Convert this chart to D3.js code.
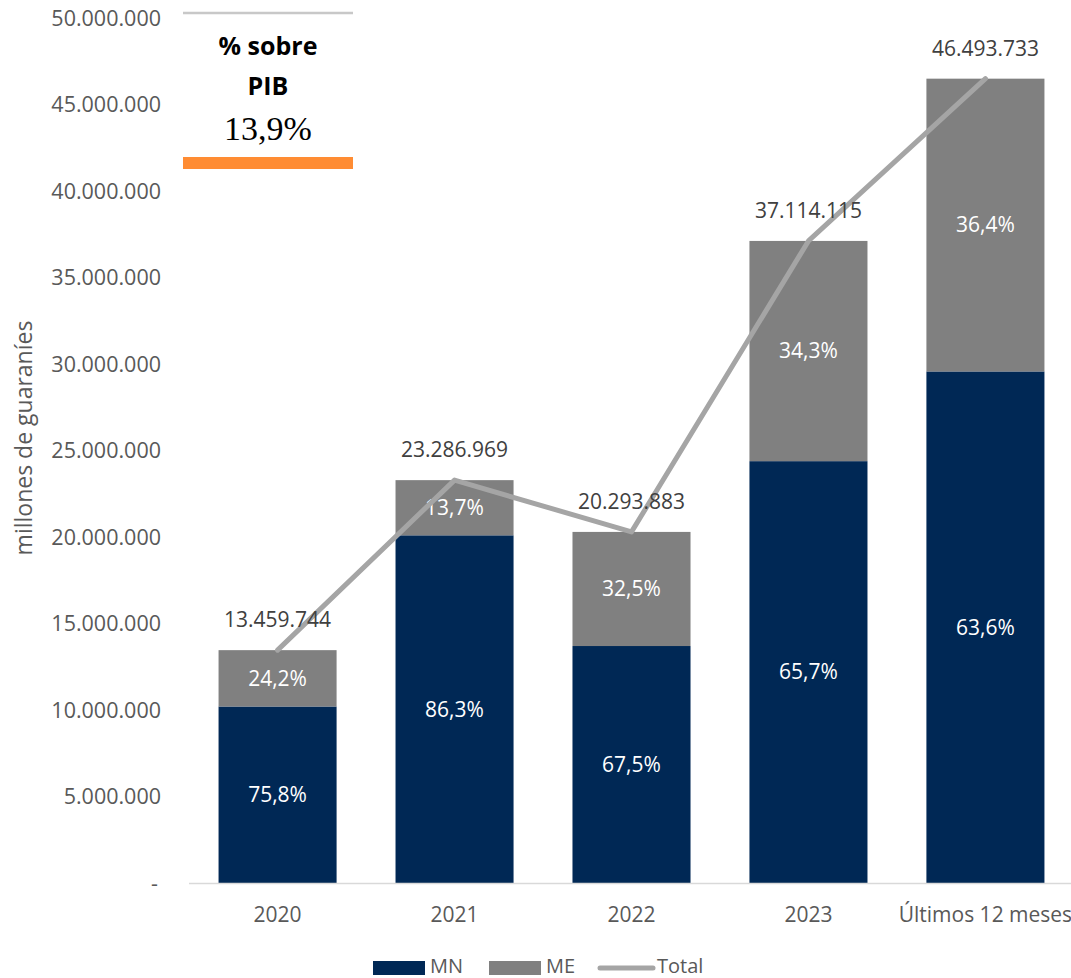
<!DOCTYPE html>
<html>
<head>
    <meta charset="utf-8">
    <title>Depósitos MN / ME</title>
    <script src="https://cdnjs.cloudflare.com/ajax/libs/d3/7.8.5/d3.min.js"></script>
    <style>
        html, body {
            margin: 0;
            padding: 0;
            background: white;
        }
        svg text {
            font-family: 'Open Sans', 'Noto Sans', sans-serif;
        }
    </style>
</head>
<body>
    <div id="chart"></div>
    <script>
        const categories = ["2020", "2021", "2022", "2023", "Últimos 12 meses"];
        const mnValues = [10202486, 20096654, 13698371, 24383974, 29570014];
        const meValues = [3257258, 3190315, 6595512, 12730141, 16923719];
        const totals = [13459744, 23286969, 20293883, 37114115, 46493733];
        const mnShares = ["75,8%", "86,3%", "67,5%", "65,7%", "63,6%"];
        const meShares = ["24,2%", "13,7%", "32,5%", "34,3%", "36,4%"];
        const yTicks = [0, 5000000, 10000000, 15000000, 20000000, 25000000, 30000000, 35000000, 40000000, 45000000, 50000000];
        const pibShare = "13,9%";

        const width = 1071, height = 978;
        const colorMN = "#002855", colorME = "#808080", colorTotal = "#A5A5A5";
        const textColor = "#595959";
        const fs = "21px";

        const svg = d3.select("#chart")
            .append("svg")
            .attr("width", width)
            .attr("height", height);

        const x = d3.scaleBand()
            .domain(categories)
            .range([189, 1074])
            .paddingInner(0.333)
            .paddingOuter(0.167);

        const y = d3.scaleLinear()
            .domain([0, 50000000])
            .range([883, 18]);

        const fmt = v => v === 0 ? "-" : d3.format(",")(v).replace(/,/g, ".");

        // y axis labels (no line)
        svg.append("g")
            .selectAll("text")
            .data(yTicks)
            .enter()
            .append("text")
            .attr("x", v => v === 0 ? 158 : 161)
            .attr("y", v => y(v))
            .attr("dy", "0.35em")
            .attr("text-anchor", "end")
            .attr("font-size", "21.5px")
            .attr("fill", textColor)
            .text(fmt);

        svg.append("text")
            .attr("transform", "translate(32," + 438 + ") rotate(-90)")
            .attr("text-anchor", "middle")
            .attr("font-size", "23px")
            .attr("fill", textColor)
            .text("millones de guaraníes");

        const stacked = categories.map((c, i) => ({
            cat: c, mn: mnValues[i], me: meValues[i], total: totals[i],
            mnLabel: mnShares[i], meLabel: meShares[i]
        }));

        // MN bars
        svg.append("g")
            .selectAll("rect")
            .data(stacked)
            .enter()
            .append("rect")
            .attr("x", d => x(d.cat))
            .attr("width", x.bandwidth())
            .attr("y", d => y(d.mn))
            .attr("height", d => y(0) - y(d.mn))
            .attr("fill", colorMN);

        // ME bars
        svg.append("g")
            .selectAll("rect")
            .data(stacked)
            .enter()
            .append("rect")
            .attr("x", d => x(d.cat))
            .attr("width", x.bandwidth())
            .attr("y", d => y(d.mn + d.me))
            .attr("height", d => y(d.mn) - y(d.mn + d.me))
            .attr("fill", colorME);

        // x axis line
        svg.append("line")
            .attr("x1", 189)
            .attr("x2", 1071)
            .attr("y1", y(0) + 0.5)
            .attr("y2", y(0) + 0.5)
            .attr("stroke", "#D9D9D9")
            .attr("stroke-width", 1.5);

        svg.append("g")
            .selectAll("text")
            .data(categories)
            .enter()
            .append("text")
            .attr("x", c => x(c) + x.bandwidth() / 2)
            .attr("y", 922)
            .attr("text-anchor", "middle")
            .attr("font-size", fs)
            .attr("fill", textColor)
            .text(c => c);

        // share labels
        svg.append("g")
            .selectAll("text")
            .data(stacked)
            .enter()
            .append("text")
            .attr("x", d => x(d.cat) + x.bandwidth() / 2)
            .attr("y", d => (y(0) + y(d.mn)) / 2)
            .attr("dy", "0.35em")
            .attr("text-anchor", "middle")
            .attr("font-size", fs)
            .attr("fill", "white")
            .text(d => d.mnLabel);

        svg.append("g")
            .selectAll("text")
            .data(stacked)
            .enter()
            .append("text")
            .attr("x", d => x(d.cat) + x.bandwidth() / 2)
            .attr("y", d => (y(d.mn) + y(d.mn + d.me)) / 2)
            .attr("dy", "0.35em")
            .attr("text-anchor", "middle")
            .attr("font-size", fs)
            .attr("fill", "white")
            .text(d => d.meLabel);

        // total line
        const line = d3.line()
            .x(d => x(d.cat) + x.bandwidth() / 2)
            .y(d => y(d.total));

        svg.append("path")
            .datum(stacked)
            .attr("d", line)
            .attr("fill", "none")
            .attr("stroke", colorTotal)
            .attr("stroke-width", 5)
            .attr("stroke-linecap", "round")
            .attr("stroke-linejoin", "round");

        // total labels
        svg.append("g")
            .selectAll("text")
            .data(stacked)
            .enter()
            .append("text")
            .attr("x", d => x(d.cat) + x.bandwidth() / 2)
            .attr("y", d => y(d.total) - 30)
            .attr("dy", "0.35em")
            .attr("text-anchor", "middle")
            .attr("font-size", fs)
            .attr("fill", "#404040")
            .text(d => fmt(d.total));

        // % sobre PIB box
        svg.append("line")
            .attr("x1", 183).attr("x2", 353)
            .attr("y1", 13).attr("y2", 13)
            .attr("stroke", "#C8C8C8")
            .attr("stroke-width", 2.5);

        svg.append("text")
            .attr("x", 268).attr("y", 55)
            .attr("text-anchor", "middle")
            .attr("font-size", "25px")
            .attr("font-weight", "bold")
            .attr("fill", "black")
            .text("% sobre");

        svg.append("text")
            .attr("x", 268).attr("y", 95)
            .attr("text-anchor", "middle")
            .attr("font-size", "25px")
            .attr("font-weight", "bold")
            .attr("fill", "black")
            .text("PIB");

        svg.append("text")
            .attr("x", 268).attr("y", 140)
            .attr("text-anchor", "middle")
            .attr("font-size", "34px")
            .style("font-family", "'Liberation Serif', 'DejaVu Serif', serif")
            .attr("fill", "black")
            .text(pibShare);

        svg.append("rect")
            .attr("x", 183).attr("y", 157)
            .attr("width", 170).attr("height", 12)
            .attr("fill", "#FF8C33");

        // legend
        const legend = svg.append("g");
        legend.append("rect").attr("x", 373).attr("y", 961).attr("width", 52).attr("height", 14).attr("fill", colorMN);
        legend.append("text").attr("x", 430).attr("y", 966).attr("dy", "0.35em")
            .attr("font-size", "20px").attr("fill", textColor).text("MN");
        legend.append("rect").attr("x", 489).attr("y", 961).attr("width", 52).attr("height", 14).attr("fill", colorME);
        legend.append("text").attr("x", 546).attr("y", 966).attr("dy", "0.35em")
            .attr("font-size", "20px").attr("fill", textColor).text("ME");
        legend.append("line").attr("x1", 600).attr("x2", 653).attr("y1", 968).attr("y2", 968)
            .attr("stroke", colorTotal).attr("stroke-width", 5).attr("stroke-linecap", "round");
        legend.append("text").attr("x", 657).attr("y", 966).attr("dy", "0.35em")
            .attr("font-size", "20px").attr("fill", textColor).text("Total");
    </script>
</body>
</html>
